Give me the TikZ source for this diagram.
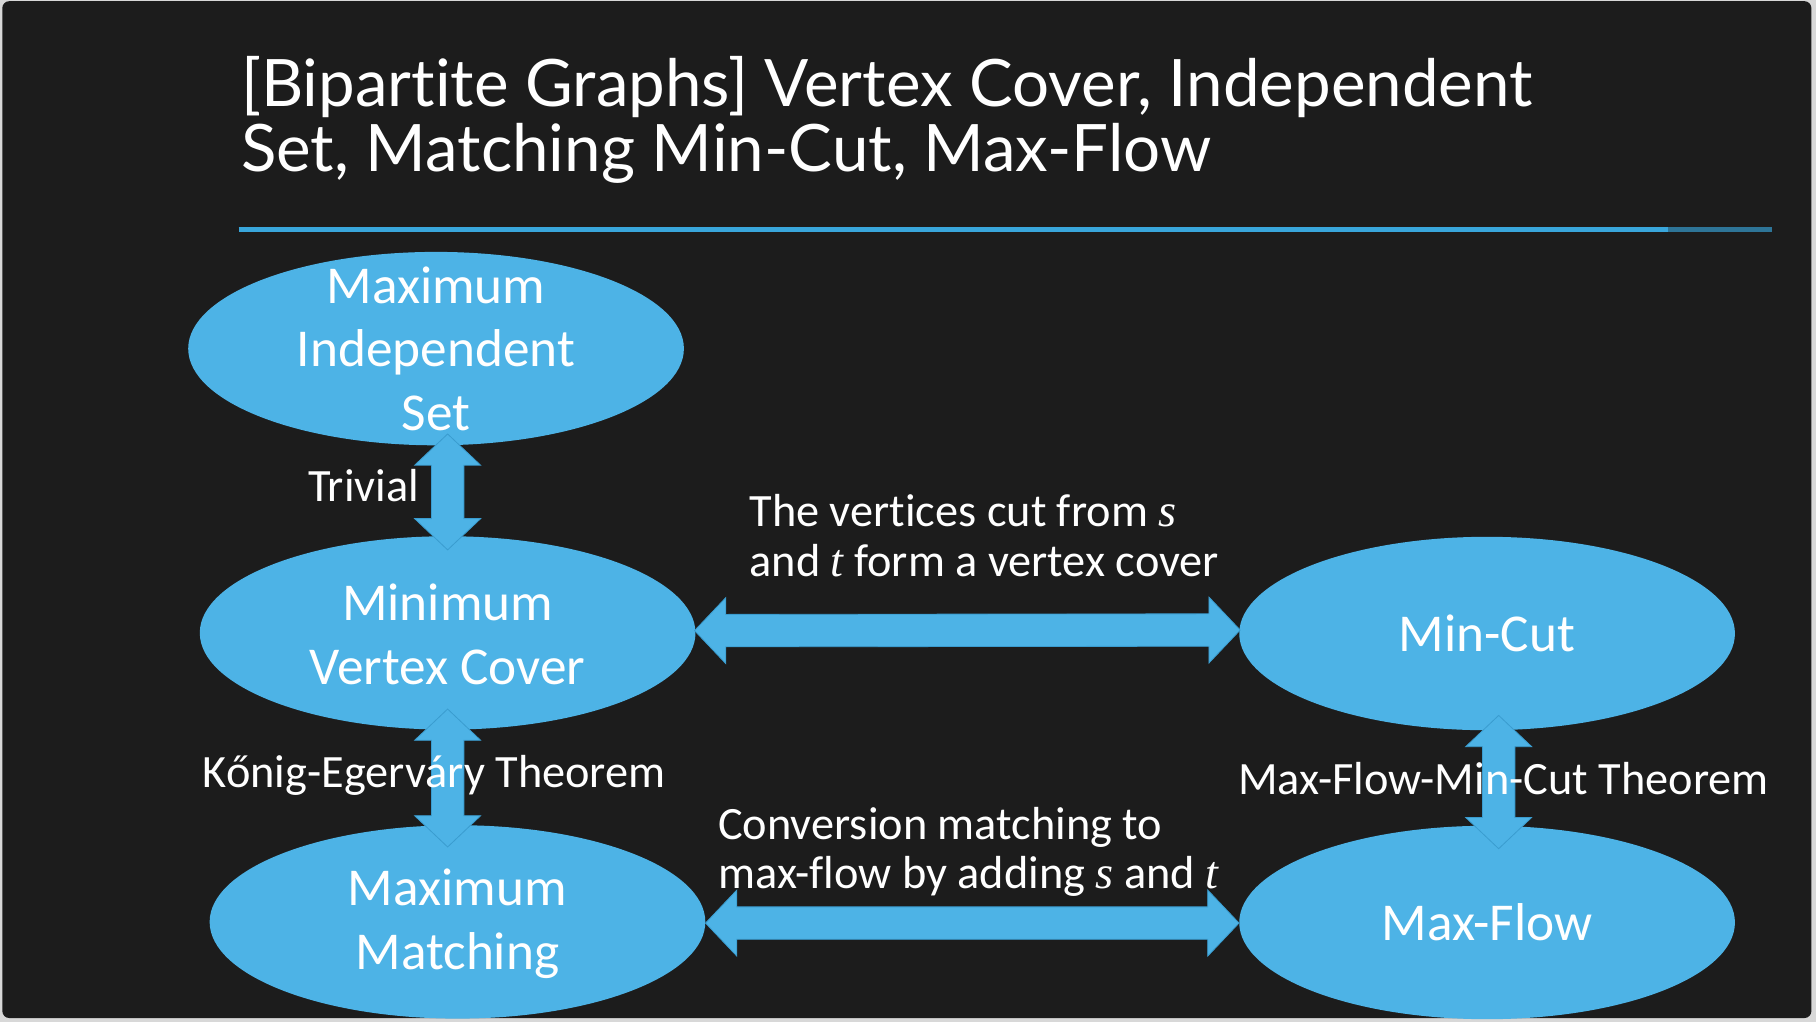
\documentclass[tikz,border=0pt]{standalone}
\usepackage{fontspec}
\setmainfont{Carlito}[Ligatures=NoCommon, RawFeature={-liga;-clig;-calt;-dlig;-rlig}]
\newfontfamily\titlefont{Lato}[Ligatures=NoCommon, RawFeature={-liga;-clig;-calt;-dlig;-rlig}]
\newfontfamily\varfont{Liberation Serif}
\newcommand{\var}[1]{{\varfont\itshape #1}}
\usetikzlibrary{shapes.geometric,calc}
\definecolor{board}{HTML}{1C1C1C}
\definecolor{frame}{HTML}{D8D8D8}
\definecolor{nodeblue}{HTML}{4DB3E6}
\definecolor{edgeblue}{HTML}{3A9CCF}
\definecolor{rule}{HTML}{39A6DB}
\newcommand{\dblarrowV}[2]{%
  \filldraw[arrowfill] (#1) -- ($(#1)+(28.5,27)$) -- ($(#1)+(14,27)$) -- ($(#2)+(14,-27)$) -- ($(#2)+(28.5,-27)$) -- (#2) -- ($(#2)+(-28.5,-27)$) -- ($(#2)+(-14,-27)$) -- ($(#1)+(-14,27)$) -- ($(#1)+(-28.5,27)$) -- cycle;}
\newcommand{\dblarrowH}[2]{%
  \filldraw[arrowfill] (#1) -- ($(#1)+(27,-28.5)$) -- ($(#1)+(27,-14)$) -- ($(#2)+(-27,-14)$) -- ($(#2)+(-27,-28.5)$) -- (#2) -- ($(#2)+(-27,28.5)$) -- ($(#2)+(-27,14)$) -- ($(#1)+(27,14)$) -- ($(#1)+(27,28.5)$) -- cycle;}
\tikzset{
  blob/.style={ellipse, fill=nodeblue, minimum width=428pt, minimum height=167pt, inner sep=0pt},
  ntext/.style={text=white, align=center, inner sep=0pt, font=\fontsize{46}{55}\selectfont},
  lbl/.style={text=white, inner sep=0pt, font=\fontsize{40}{43}\selectfont},
  ttl/.style={text=white, inner sep=0pt, anchor=base west, font=\titlefont\fontsize{56.5}{56}\selectfont},
  arrowfill/.style={fill=nodeblue, draw=edgeblue, line width=0.7pt, line join=miter},
}
\begin{document}
\begin{tikzpicture}[x=1pt,y=-1pt]
\useasboundingbox (0,0) rectangle (1568,882);
\fill[frame] (0,0) rectangle (1568,882);
\fill[board, rounded corners=6pt] (2,1) rectangle (1564,879);
% title
\node[ttl] (t1) at (208,92) {[Bipartite Graphs] Vertex Cover, Independent};
\node[ttl] (t2) at (208,148) {Set, Matching Min-Cut, Max-Flow};
\draw[rule, line width=4pt] (206,198) -- (1440,198);
\draw[rule, line width=4pt, opacity=0.65] (1440,198) -- (1530,198);
% ellipses
\node[blob] (mis) at (376.5,301) {};
\node[blob] (mvc) at (386.5,546.5) {};
\node[blob] (mm)  at (395,796) {};
\node[blob] (mc)  at (1284,547) {};
\node[blob] (mf)  at (1284,796.5) {};
\node[ntext] (misT) at (mis) {Maximum\\Independent\\Set};
\node[ntext] (mvcT) at ($(mvc)+(0,1.5)$) {Minimum\\Vertex Cover};
\node[ntext] (mmT)  at ($(mm)+(0,1.5)$)  {Maximum\\Matching};
\node[ntext] (mcT)  at (mc)  {Min-Cut};
\node[ntext] (mfT)  at (mf)  {Max-Flow};
% arrows
\dblarrowV{$(mis.south -| mvc.north)+(0,-10)$}{$(mvc.north)+(0,12)$}
\dblarrowV{$(mvc.south)+(0,-18)$}{$(mm.north -| mvc.south)+(0,19)$}
\dblarrowV{$(mc.south)+(10,-13)$}{$(mf.north)+(10,20)$}
\dblarrowH{$(mvc.east)+(-1,-2)$}{$(mc.west)+(1,-3)$}
\dblarrowH{$(mm.east)+(0,1)$}{$(mf.west)+(0,0.5)$}
% labels
\node[lbl, anchor=base east] (triv) at (362,433) {Trivial};
\node[lbl, anchor=base west] (konig) at (175,680) {Kőnig-Egerváry Theorem};
\node[lbl, anchor=base west] (mfmc) at (1069,686) {Max-Flow-Min-Cut Theorem};
\node[lbl, anchor=base west] (cut1) at (647,455) {The vertices cut from \var{s}};
\node[lbl, anchor=base west] (cut2) at (647,498) {and \var{t} form a vertex cover};
\node[lbl, anchor=base west] (conv1) at (620,725) {Conversion matching to};
\node[lbl, anchor=base west] (conv2) at (620,767) {max-flow by adding \var{s} and \var{t}};
\end{tikzpicture}
\end{document}
